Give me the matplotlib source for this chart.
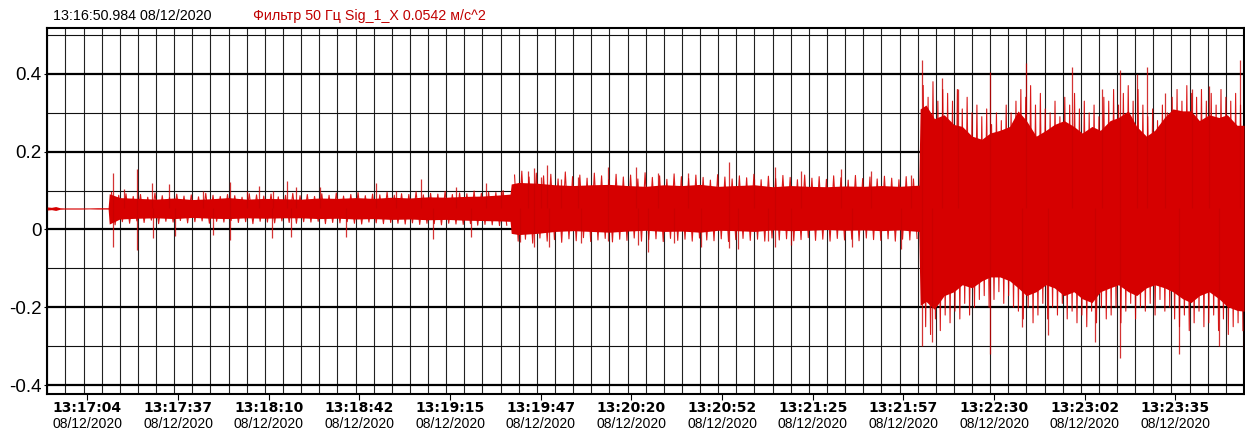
import matplotlib
matplotlib.use("Agg")
import matplotlib.pyplot as plt
from matplotlib.ticker import MultipleLocator, FixedLocator
import numpy as np

plt.rcParams['axes.unicode_minus'] = False

RED = '#d60000'

start_label = "13:16:50.984 08/12/2020"
channel_label = "Фильтр 50 Гц Sig_1_X 0.0542 м/с^2"
signal_mean = 0.0542

# seconds from 13:16:50.984
tick_t = [14.4, 46.9, 79.4, 111.9, 144.4, 176.9, 209.4, 241.9, 274.4, 306.9, 339.4, 371.9, 404.4]
tick_time = ["13:17:04", "13:17:37", "13:18:10", "13:18:42", "13:19:15", "13:19:47", "13:20:20",
             "13:20:52", "13:21:25", "13:21:57", "13:22:30", "13:23:02", "13:23:35"]
tick_date = ["08/12/2020"] * len(tick_t)

y_ticks = [-0.4, -0.2, 0.0, 0.2, 0.4]
y_labels = ["-0.4", "-0.2", "0", "0.2", "0.4"]

# dense core of the signal (upper / lower edge)
body_t = [0, 1.5, 3, 4.5, 6, 9, 12, 15, 18, 21.8,
          22.2, 26, 32.5, 39, 45.5, 52, 58.5, 65, 71.5, 78, 84.5, 91, 97.5, 104, 110.5, 117,
          123.5, 130, 136.5, 143, 149.5, 156, 162.5, 165.9,
          166.3, 169, 175.5, 182, 188.5, 195, 201.5, 208, 214.5, 221, 227.5, 234, 240.5, 247,
          253.5, 260, 266.5, 273, 279.5, 286, 292.5, 299, 305.5, 312.4,
          312.9, 315, 318, 321.5, 325, 328, 331.5, 335, 338, 341.5, 345, 348, 351, 354.5, 358,
          361, 364.5, 368, 371, 374.5, 377.5, 381, 384, 387.5, 390.5, 394, 397, 400.5, 403.5,
          407, 410, 413, 416.5, 420, 423, 426.5, 429]
body_hi = [.058, .057, .059, .056, .0555, .0555, .0555, .0555, .056, .056,
           .092, .082, .080, .078, .081, .077, .079, .082, .078, .080, .079, .078, .081, .080, .082, .080,
           .083, .081, .084, .083, .085, .086, .089, .091,
           .117, .121, .119, .115, .113, .115, .116, .113, .111, .115, .113, .116, .111, .113,
           .115, .110, .113, .111, .110, .112, .111, .113, .111, .114,
           .310, .320, .285, .295, .270, .265, .240, .232, .248, .255, .265, .305, .280, .240, .255,
           .270, .280, .265, .248, .265, .255, .280, .288, .305, .265, .240, .255, .288, .310,
           .305, .305, .280, .295, .288, .295, .268, .268]
body_lo = [.050, .051, .049, .052, .0525, .0525, .0525, .053, .0525, .0525,
           .014, .027, .029, .030, .028, .031, .029, .028, .030, .029, .030, .030, .028, .029, .027, .028,
           .026, .027, .025, .026, .024, .023, .022, .021,
           -.010, -.013, -.010, -.005, -.003, -.005, -.007, -.004, -.002, -.005, -.004, -.007, -.002, -.003,
           -.005, -.001, -.003, -.002, .000, -.002, -.001, -.003, -.001, -.005,
           -.195, -.185, -.205, -.170, -.160, -.142, -.150, -.132, -.122, -.122, -.132, -.150, -.170,
           -.160, -.142, -.150, -.170, -.160, -.178, -.188, -.160, -.150, -.142, -.160, -.170, -.150,
           -.142, -.150, -.160, -.178, -.188, -.170, -.160, -.178, -.198, -.208, -.210]

# ragged edge of the dense part: oscillation extremes, one swing every few pixels
ripple_b_hi = [.095, .088, .092, .085, .090, .083, .094, .087, .082, .091, .086, .089, .084, .093,
               .088, .085, .090, .087, .083, .092, .089, .086, .091, .084, .088, .093, .087, .090,
               .085, .092, .088, .094, .086, .090, .095, .087, .091, .089, .096, .088, .092, .090,
               .097, .089, .093, .091, .098, .090, .094, .092, .099, .093, .096, .095, .100]
ripple_b_lo = [.012, .020, .016, .022, .018, .024, .015, .021, .019, .023, .017, .020, .022, .016,
               .021, .019, .023, .018, .020, .015, .021, .019, .017, .022, .018, .016, .020, .019,
               .021, .015, .018, .017, .020, .016, .014, .019, .017, .015, .018, .016, .014, .017,
               .013, .016, .015, .012, .016, .014, .013, .015, .011, .013, .012, .010, .011]
ripple_c_hi = [.140, .150, .135, .145, .138, .142, .130, .148, .136, .140, .132, .145, .138, .128,
               .142, .135, .140, .130, .146, .134, .138, .129, .143, .136, .131, .140, .134, .127,
               .141, .135, .130, .138, .133, .142, .128, .137, .131, .139, .134, .128, .140, .132,
               .136, .129, .138, .133, .127, .139, .131, .135, .130, .137, .132, .128, .136, .130]
ripple_c_lo = [-.030, -.025, -.035, -.022, -.030, -.026, -.033, -.024, -.029, -.021, -.031, -.027,
               -.023, -.032, -.025, -.028, -.022, -.030, -.026, -.024, -.031, -.023, -.028, -.025,
               -.030, -.022, -.027, -.029, -.024, -.031, -.026, -.023, -.028, -.025, -.030, -.022,
               -.027, -.024, -.029, -.026, -.021, -.028, -.025, -.030, -.023, -.027, -.025, -.029,
               -.022, -.026, -.028, -.024, -.030, -.025, -.027, -.023]
ripple_d_hi = [.37, .34, .38, .33, .36, .35,
               .33, .36, .31, .34, .30, .32,
               .29, .31, .27, .30, .28, .32, .30,
               .33, .36, .34, .37, .32, .35, .31,
               .30, .33, .29, .34, .32, .35,
               .31, .33, .30, .32, .29, .34,
               .33, .36, .32, .35, .37, .33, .36,
               .32, .29, .31, .28, .32, .30,
               .34, .36, .33, .37, .35, .34, .36,
               .33, .35, .32, .36, .34, .33, .35, .32]
ripple_d_lo = [-.25, -.27, -.23, -.26, -.22, -.24,
               -.21, -.23, -.19, -.22, -.20, -.18,
               -.17, -.20, -.18, -.16, -.19, -.17, -.20,
               -.21, -.23, -.20, -.24, -.22, -.19, -.23,
               -.20, -.22, -.19, -.23, -.21, -.24,
               -.22, -.25, -.21, -.24, -.20, -.23,
               -.22, -.20, -.24, -.21, -.19, -.23, -.20,
               -.21, -.19, -.22, -.18, -.21, -.20,
               -.23, -.25, -.22, -.26, -.24, -.21, -.25,
               -.24, -.22, -.26, -.23, -.27, -.25, -.24, -.26]

# isolated peaks sticking out of the dense part
spike_t = [23.5, 23.5, 27.5, 32.1, 32.1, 37.5, 38.0, 43.8, 45.9, 55.9, 59.4, 65.4, 65.4, 71.6, 76.0,
           80.7, 81.0, 86.0, 87.2, 89.0, 97.9, 106.9, 117.7, 124.9, 133.8, 138.1, 146.4, 151.8,
           157.2, 162.6,
           169.4, 172.2, 174.3, 174.4, 176.9, 179.3, 179.8, 184.0, 190.1, 191.3, 200.9, 200.9,
           211.0, 211.8, 215.5, 218.8, 224.7, 229.6, 234.4, 244.2, 244.2, 247.6, 253.4, 258.3,
           260.7, 260.7, 266.7, 270.3, 284.7, 288.3, 295.4, 306.2, 309.8,
           313.5, 313.5, 317.1, 320.7, 326.3, 337.9, 337.9, 349.3, 350.7, 358.9, 367.2, 375.6,
           378.0, 384.6, 384.6, 390.6, 394.2, 400.6, 405.6, 410.3, 416.3, 419.9, 427.7, 429.0]
spike_v = [.144, -.046, .104, .155, -.053, .120, -.022, .116, -.018, .098, -.015, .121, -.027, .100, .113,
           -.022, .100, .125, -.020, .110, .110, -.020, .120, .100, .130, -.025, .110, -.020,
           .120, .100,
           -.031, .150, .157, -.044, .135, .166, -.044, .130, .136, -.035, .160, -.030,
           .160, -.040, -.057, .145, -.035, .145, -.045, .174, -.047, -.050, .130, -.030,
           .160, -.045, -.040, .150, .155, -.045, .150, -.050, .140,
           .436, -.300, -.290, .390, .360, .406, -.320, -.250, .427, -.270, .418, -.290,
           .360, .410, -.330, .400, .418, .350, -.320, .360, .370, -.300, .436, -.310]

# swing sampling of each segment: (start, step in seconds)
ripple_sets = [(23.0, 2.6, ripple_b_hi, ripple_b_lo),
               (167.5, 2.6, ripple_c_hi, ripple_c_lo),
               (314.0, 1.75, ripple_d_hi, ripple_d_lo)]

fig = plt.figure(figsize=(12.45, 4.36), dpi=100)
ax = fig.add_axes([0.038, 0.0963, 0.9612, 0.8394])

ax.fill_between(body_t, body_lo, body_hi, color=RED, lw=0, zorder=3)
for t0, step, hi, lo in ripple_sets:
    n = len(hi)
    tz = np.empty(2 * n)
    vz = np.empty(2 * n)
    tz[0::2] = t0 + step * np.arange(n)
    tz[1::2] = t0 + step * (np.arange(n) + 0.5)
    vz[0::2] = hi
    vz[1::2] = lo
    ax.plot(tz, vz, color=RED, lw=0.8, alpha=0.9, zorder=3)
ax.vlines(spike_t, signal_mean, spike_v, color='#c80000', lw=0.9, alpha=0.8, zorder=3)

ax.set_xlim(0, 429)
ax.set_ylim(-0.423, 0.518)

# grid: every 6.5 s and every 0.1, thicker on the labelled levels
ax.xaxis.set_major_locator(FixedLocator(tick_t))
ax.xaxis.set_minor_locator(MultipleLocator(6.5))
ax.set_xticklabels(tick_time, fontfamily='DejaVu Sans', fontweight='bold', fontsize=10)
ax.set_yticks(y_ticks)
ax.set_yticklabels(y_labels, fontfamily='Liberation Sans', fontsize=13.5)
ax.yaxis.set_minor_locator(MultipleLocator(0.1))
ax.grid(which='minor', axis='x', color='#222222', lw=0.8)
ax.grid(which='minor', axis='y', color='#111111', lw=0.8)
ax.grid(which='major', axis='y', color='black', lw=1.6)
ax.set_axisbelow(True)
ax.tick_params(axis='x', which='major', length=4, width=0.8, pad=1)
ax.tick_params(axis='x', which='minor', length=0)
ax.tick_params(axis='y', which='major', length=2, pad=2)
ax.tick_params(axis='y', which='minor', length=0)
for s in ax.spines.values():
    s.set_linewidth(1.5)

for t, d in zip(tick_t, tick_date):
    ax.text(t, -0.082, d, transform=ax.get_xaxis_transform(), ha='center', va='center',
            fontfamily='Liberation Sans', fontsize=10)

fig.text(53 / 1245, 1 - 16 / 436, start_label, ha='left', va='center',
         fontfamily='Liberation Sans', fontsize=10.3)
fig.text(253 / 1245, 1 - 16 / 436, channel_label, ha='left', va='center',
         fontfamily='Liberation Sans', fontsize=10.3, color='#c00000')

fig.savefig("out.png", dpi=100)
